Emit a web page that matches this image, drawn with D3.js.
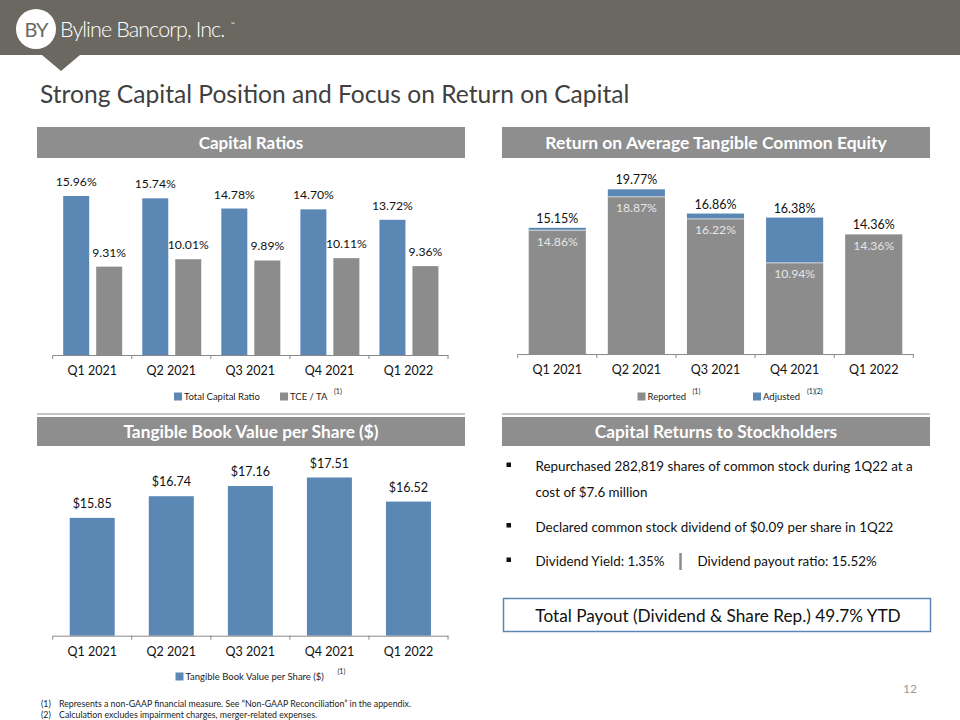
<!DOCTYPE html>
<html><head><meta charset="utf-8">
<script src="https://cdn.jsdelivr.net/npm/d3@7"></script>
<style>body{margin:0;background:#fff}svg{display:block}</style>
</head><body>
<script>
const quarters = ["Q1 2021","Q2 2021","Q3 2021","Q4 2021","Q1 2022"];
const totalCapital = [15.96,15.74,14.78,14.70,13.72];
const tceTa = [9.31,10.01,9.89,10.11,9.36];
const rotceReported = [14.86,18.87,16.22,10.94,14.36];
const rotceAdjusted = [15.15,19.77,16.86,16.38,14.36];
const tbvps = [15.85,16.74,17.16,17.51,16.52];
const bullets = [
  ["Repurchased 282,819 shares of common stock during 1Q22 at a","cost of $7.6 million"],
  ["Declared common stock dividend of $0.09 per share in 1Q22"],
  ["Dividend Yield: 1.35%","Dividend payout ratio: 15.52%"]
];
const payoutText = "Total Payout (Dividend & Share Rep.) 49.7% YTD";
const footnotes = ["Represents a non-GAAP financial measure.  See \u201cNon-GAAP Reconciliation\u201d in the appendix.","Calculation excludes impairment charges, merger-related expenses."];

const BLUE="#5b87b5", GRAY="#8c8c8c", HDR="#8e8e8e", FONT="Lato, 'Open Sans', sans-serif";
const svg = d3.select("body").append("svg").attr("width",960).attr("height",720).style("font-family",FONT);

// Top banner
svg.append("rect").attr("x",0).attr("y",0).attr("width",960).attr("height",55).attr("fill","#6b6861");
svg.append("path").attr("d","M42,55 L80,55 L61,71 Z").attr("fill","#6b6861");
svg.append("circle").attr("cx",36).attr("cy",29).attr("r",20).attr("fill","#fff");
svg.append("text").attr("x",36).attr("y",36.5).attr("text-anchor","middle").attr("font-size",20).attr("font-weight",400)
  .attr("fill","#6b6861").attr("letter-spacing",-1).text("BY");
svg.append("text").attr("x",60).attr("y",37).attr("font-size",21.5).attr("fill","#fff").attr("font-weight",300).attr("letter-spacing",-0.9).text("Byline Bancorp, Inc.");
svg.append("text").attr("x",231).attr("y",26).attr("font-size",5).attr("fill","#fff").text("\u2122");

// Title
svg.append("text").attr("x",40).attr("y",103).attr("font-size",24.6).attr("fill","#404040").text("Strong Capital Position and Focus on Return on Capital");

function header(x,y,w,h,label,fs){
  svg.append("rect").attr("x",x).attr("y",y).attr("width",w).attr("height",h).attr("fill",HDR);
  svg.append("text").attr("x",x+w/2).attr("y",y+h/2+6).attr("text-anchor","middle").attr("font-size",fs)
    .attr("font-weight",700).attr("fill","#fff").text(label);
}
header(37,127,428,31,"Capital Ratios",17);
header(502,127,428,31,"Return on Average Tangible Common Equity",17.5);
header(37,417,428,29,"Tangible Book Value per Share ($)",17.3);
header(502,417,428,29,"Capital Returns to Stockholders",17.3);
svg.append("line").attr("x1",37).attr("x2",465).attr("y1",414).attr("y2",414).attr("stroke","#8a8a8a").attr("stroke-width",1);
svg.append("line").attr("x1",502).attr("x2",930).attr("y1",414).attr("y2",414).attr("stroke","#8a8a8a").attr("stroke-width",1);

function xAxis(x, y0){
  const g = svg.append("g").attr("transform",`translate(0,${y0})`)
    .call(d3.axisBottom(x).tickSize(0).tickPadding(11));
  g.select(".domain").attr("stroke","#8a8a8a");
  g.selectAll("text").attr("font-size",12.5).attr("fill","#111").style("font-family",FONT);
  const r = x.range(), step = (r[1]-r[0])/quarters.length;
  d3.range(quarters.length+1).forEach(i=>{
    g.append("line").attr("x1",r[0]+i*step).attr("x2",r[0]+i*step).attr("y1",0).attr("y2",4).attr("stroke","#8a8a8a");
  });
  return g;
}
function legendItem(x,y,color,label,sup,supDx){
  svg.append("rect").attr("x",x).attr("y",y-4).attr("width",8).attr("height",8).attr("fill",color);
  svg.append("text").attr("x",x+10).attr("y",y+3.5).attr("font-size",9.5).attr("fill","#222").text(label);
  if(sup) svg.append("text").attr("x",x+10+supDx).attr("y",y-3).attr("font-size",7).attr("fill","#222").text(sup);
}

// Capital Ratios
{
  const x = d3.scaleBand().domain(quarters).range([52.7,448]);
  const x1 = d3.scaleBand().domain(["tc","tce"]).range([10.5,69.5]).paddingInner(0.2121);
  const y = d3.scaleLinear().domain([1,18]).range([355,355-17*10.63]);
  const g = svg.append("g");
  quarters.forEach((q,i)=>{
    [["tc",totalCapital[i],BLUE],["tce",tceTa[i],GRAY]].forEach(([k,v,c])=>{
      const bx = x(q)+x1(k);
      g.append("rect").attr("x",bx).attr("y",y(v)).attr("width",x1.bandwidth()).attr("height",y(1)-y(v)).attr("fill",c);
      g.append("text").attr("x",bx+x1.bandwidth()/2).attr("y",y(v)-10).attr("text-anchor","middle")
        .attr("font-size",12.2).attr("fill","#111").text(v.toFixed(2)+"%");
    });
  });
  xAxis(x,355);
  legendItem(174,396.5,BLUE,"Total Capital Ratio");
  legendItem(280,396.5,GRAY,"TCE / TA","(1)",44);
}

// ROTCE
{
  const x = d3.scaleBand().domain(quarters).range([517.7,913.3]).paddingInner(0.278).paddingOuter(0.139);
  const y = d3.scaleLinear().domain([0,22]).range([354,354-22*8.33]);
  const g = svg.append("g");
  quarters.forEach((q,i)=>{
    const r = rotceReported[i], a = rotceAdjusted[i], bx = x(q), bw = x.bandwidth();
    g.append("rect").attr("x",bx).attr("y",y(r)).attr("width",bw).attr("height",y(0)-y(r)).attr("fill",GRAY);
    if(a>r){
      g.append("rect").attr("x",bx).attr("y",y(a)).attr("width",bw).attr("height",y(r)-y(a)).attr("fill",BLUE);
      g.append("line").attr("x1",bx).attr("x2",bx+bw).attr("y1",y(r)).attr("y2",y(r)).attr("stroke","#e8e8e8").attr("stroke-width",0.8);
    }
    g.append("text").attr("x",bx+bw/2).attr("y",y(a)-5).attr("text-anchor","middle").attr("font-size",12.5).attr("fill","#111").text(a.toFixed(2)+"%");
    g.append("text").attr("x",bx+bw/2).attr("y",y(r)+15.5).attr("text-anchor","middle").attr("font-size",12.2).attr("fill","#e6e6e6").text(r.toFixed(2)+"%");
  });
  xAxis(x,354);
  legendItem(637.5,396.5,GRAY,"Reported","(1)",45);
  legendItem(753,396.5,BLUE,"Adjusted","(1)(2)",44);
}

// TBV
{
  const x = d3.scaleBand().domain(quarters).range([52.7,448]).paddingInner(0.431).paddingOuter(0.2155);
  const y = d3.scaleLinear().domain([11,18]).range([635.7,635.7-7*24.3]);
  const g = svg.append("g");
  quarters.forEach((q,i)=>{
    const v = tbvps[i];
    g.append("rect").attr("x",x(q)).attr("y",y(v)).attr("width",x.bandwidth()).attr("height",y(11)-y(v)).attr("fill",BLUE);
    g.append("text").attr("x",x(q)+x.bandwidth()/2).attr("y",y(v)-10).attr("text-anchor","middle").attr("font-size",12.5).attr("fill","#111").text("$"+v.toFixed(2));
  });
  xAxis(x,635.7);
  legendItem(175.5,676.5,BLUE,"Tangible Book Value per Share ($)","(1)",152);
}

// Capital Returns text
{
  const g = svg.append("g").attr("font-size",13.4).attr("fill","#111");
  const lines = [[bullets[0][0],471,true],[bullets[0][1],497,false],[bullets[1][0],531.5,true]];
  lines.forEach(([t,yy,b])=>{
    if(b) g.append("rect").attr("x",506.5).attr("y",yy-8.5).attr("width",4.5).attr("height",4.5).attr("fill","#111");
    g.append("text").attr("x",535.5).attr("y",yy).text(t);
  });
  g.append("rect").attr("x",506.5).attr("y",566-8.5).attr("width",4.5).attr("height",4.5).attr("fill","#111");
  g.append("text").attr("x",535.5).attr("y",566).text(bullets[2][0]);
  g.append("line").attr("x1",680.5).attr("x2",680.5).attr("y1",553).attr("y2",570).attr("stroke","#8c8c8c").attr("stroke-width",2.5);
  g.append("text").attr("x",697.5).attr("y",566).text(bullets[2][1]);
  svg.append("rect").attr("x",503.5).attr("y",598.5).attr("width",427).attr("height",33).attr("fill","#fff").attr("stroke",BLUE).attr("stroke-width",1.5);
  svg.append("text").attr("x",718).attr("y",621.5).attr("text-anchor","middle").attr("font-size",17.2).attr("fill","#111").text(payoutText);
}

// page number + footnotes
svg.append("text").attr("x",917).attr("y",693).attr("text-anchor","end").attr("font-size",12).attr("fill","#999").text("12");
footnotes.forEach((f,i)=>{
  const yy = 707 + i*11;
  svg.append("text").attr("x",41).attr("y",yy).attr("font-size",8.8).attr("fill","#222").text(`(${i+1})`);
  svg.append("text").attr("x",59).attr("y",yy).attr("font-size",8.8).attr("fill","#222").text(f);
});
</script>
</body></html>
